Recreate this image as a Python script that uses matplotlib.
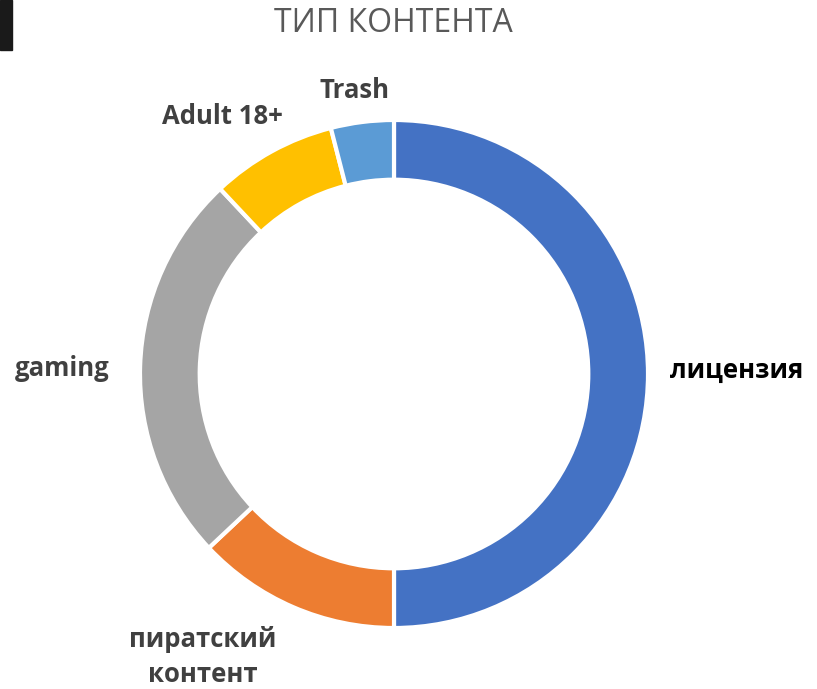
import matplotlib
matplotlib.use("Agg")
import matplotlib.pyplot as plt
from matplotlib.patches import Rectangle

# данные
labels = ["лицензия", "пиратский\nконтент", "gaming", "Adult 18+", "Trash"]
shares = [50, 13, 25, 8, 4]
colors = ["#4472C4", "#ED7D31", "#A5A5A5", "#FFC000", "#5B9BD5"]
label_colors = ["#000000", "#404040", "#404040", "#404040", "#404040"]
# позиции подписей (в пикселях картинки)
label_px = [(737, 370), (203, 657), (62, 368), (222, 117), (355, 90)]

W, H = 817, 689
fig = plt.figure(figsize=(W / 100, H / 100), dpi=100)

cx, cy, r = 394, 374, 254
ax = fig.add_axes([(cx - r) / W, (H - cy - r) / H, 2 * r / W, 2 * r / H])
ax.pie(shares, colors=colors, startangle=90, counterclock=False, radius=1,
       wedgeprops=dict(width=0.235, edgecolor="white", linewidth=3))
ax.set_xlim(-1, 1)
ax.set_ylim(-1, 1)
ax.set_aspect("auto")
ax.axis("off")

for lab, (px, py), c in zip(labels, label_px, label_colors):
    fig.text(px / W, 1 - py / H, lab, ha="center", va="center", fontsize=18.5,
             fontweight="bold", color=c, family=["Open Sans", "DejaVu Sans"],
             linespacing=1.4)

fig.text(393 / W, 1 - 24 / H, "ТИП КОНТЕНТА", ha="center", va="center",
         fontsize=23, color="#595959", family=["Open Sans", "DejaVu Sans"])

# тёмная полоска в левом верхнем углу
fig.patches.append(Rectangle((0, 1 - 50 / H), 12 / W, 50 / H,
                             transform=fig.transFigure, color="#1a1a1a"))

fig.savefig("out.png", dpi=100)
